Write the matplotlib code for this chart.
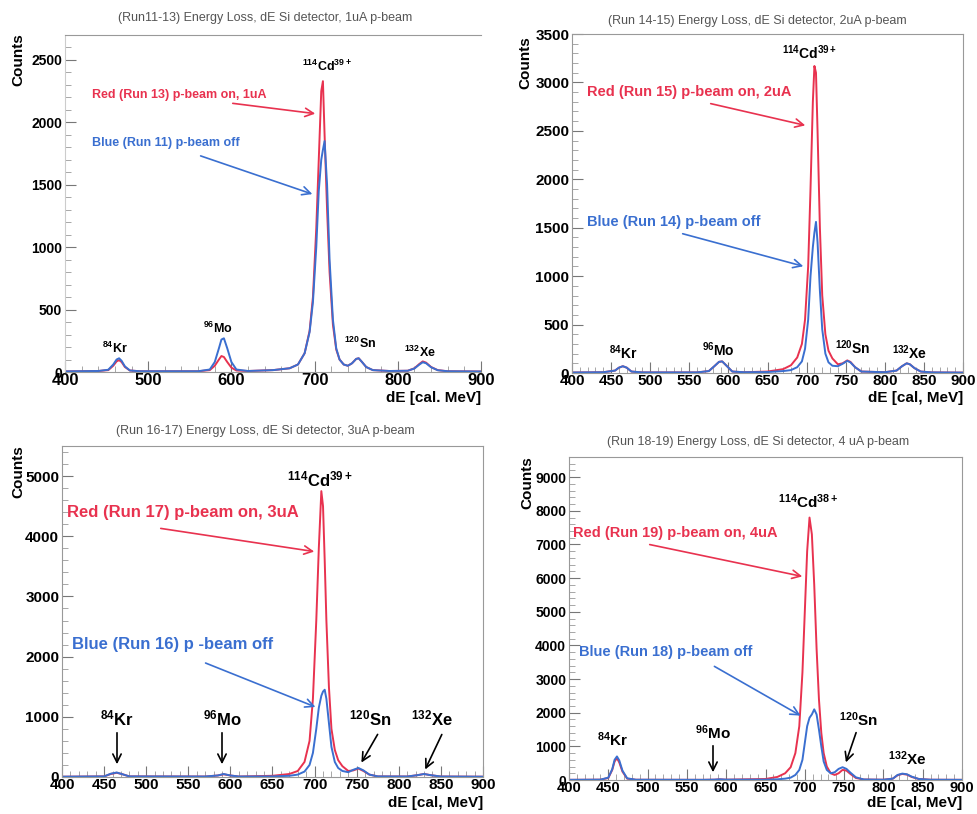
### four dE Si detector spectra, p-beam on (red) vs off (blue)
import numpy as np
import matplotlib
matplotlib.use('Agg')
import matplotlib.pyplot as plt
from matplotlib.ticker import MultipleLocator

plt.rcParams['font.family'] = ['Liberation Sans', 'DejaVu Sans']
plt.rcParams['font.weight'] = 'bold'
plt.rcParams['mathtext.fontset'] = 'custom'
plt.rcParams['mathtext.rm'] = 'Liberation Sans:bold'
plt.rcParams['mathtext.it'] = 'Liberation Sans:bold'
plt.rcParams['mathtext.bf'] = 'Liberation Sans:bold'

# ---- data ----
# panel 1: runs 11 (off) / 13 (on, 1uA)
e1 = [400, 440, 452, 458, 462, 465, 468, 472, 478, 490, 560, 574, 580, 585, 588, 591, 595, 600,
      606, 620, 650, 670, 680, 688, 694, 698, 702, 705, 708, 710, 712, 715, 718, 722, 726, 730,
      735, 740, 745, 750, 753, 757, 762, 770, 790, 812, 820, 826, 830, 834, 840, 848, 860, 900]
run13 = [5, 8, 15, 50, 85, 95, 80, 40, 12, 6, 6, 15, 50, 100, 128, 120, 80, 35,
         12, 8, 15, 30, 60, 150, 330, 600, 1150, 1700, 2250, 2330, 1900, 1300, 800, 380, 180, 100,
         60, 50, 70, 105, 110, 80, 40, 15, 8, 10, 30, 65, 85, 75, 40, 15, 6, 4]
run11 = [5, 8, 18, 60, 100, 110, 90, 45, 12, 6, 6, 20, 80, 190, 260, 270, 190, 80,
         20, 8, 15, 30, 60, 150, 320, 560, 1000, 1450, 1700, 1780, 1850, 1500, 900, 420, 190, 100,
         60, 50, 70, 105, 110, 80, 40, 15, 8, 10, 28, 60, 78, 70, 38, 14, 6, 4]

# panel 2: runs 14 (off) / 15 (on, 2uA)
e2 = [400, 440, 455, 460, 465, 470, 476, 490, 560, 575, 582, 588, 592, 597, 605, 620, 650, 670,
      680, 688, 694, 698, 702, 705, 708, 710, 712, 714, 717, 720, 724, 728, 733, 740, 746, 752,
      756, 762, 770, 800, 815, 822, 828, 832, 838, 846, 860, 900]
run15 = [5, 8, 25, 55, 70, 55, 15, 6, 6, 20, 70, 115, 120, 80, 15, 8, 15, 40,
         80, 160, 300, 550, 1100, 1900, 2800, 3170, 3100, 2500, 1500, 800, 400, 230, 150, 90, 100, 130,
         115, 60, 15, 8, 25, 70, 100, 90, 50, 15, 6, 4]
run14 = [5, 8, 25, 55, 70, 55, 15, 6, 6, 20, 70, 115, 120, 80, 15, 8, 10, 20,
         30, 60, 120, 250, 550, 1000, 1300, 1450, 1560, 1350, 850, 450, 200, 110, 75, 70, 95, 125,
         110, 60, 15, 8, 25, 70, 100, 90, 50, 15, 6, 4]

# panel 3: runs 16 (off) / 17 (on, 3uA)
e3 = [400, 450, 458, 465, 472, 480, 570, 585, 592, 600, 610, 650, 670, 680, 688, 694, 698, 702,
      705, 708, 710, 712, 714, 717, 720, 724, 728, 733, 740, 746, 752, 758, 765, 775, 810, 822,
      830, 838, 850, 900]
run17 = [5, 10, 50, 70, 45, 10, 8, 25, 45, 25, 8, 20, 50, 100, 250, 600, 1300, 2600,
         3800, 4750, 4500, 3600, 2600, 1500, 800, 450, 280, 180, 100, 110, 140, 100, 40, 10, 8, 30,
         50, 30, 8, 5]
run16 = [5, 10, 55, 75, 45, 10, 8, 25, 50, 25, 8, 10, 20, 40, 90, 200, 400, 800,
         1150, 1350, 1420, 1450, 1300, 900, 500, 250, 150, 100, 80, 120, 150, 110, 40, 10, 8, 30,
         50, 30, 8, 5]

# panel 4: runs 18 (off) / 19 (on, 4uA)
e4 = [400, 440, 450, 455, 458, 461, 464, 468, 474, 485, 570, 585, 592, 600, 650, 665, 675, 682,
      688, 693, 697, 700, 703, 706, 709, 712, 715, 718, 721, 724, 728, 733, 738, 743, 748, 753,
      758, 765, 775, 800, 812, 818, 824, 830, 836, 845, 860, 900]
run19 = [5, 10, 60, 300, 550, 650, 520, 250, 40, 8, 5, 10, 20, 10, 30, 90, 200, 380,
         800, 1600, 3200, 5000, 6800, 7800, 7300, 5800, 3900, 2400, 1400, 800, 400, 200, 150, 200, 300, 280,
         180, 60, 15, 8, 40, 140, 180, 160, 90, 30, 8, 5]
run18 = [5, 10, 70, 320, 600, 700, 580, 280, 50, 8, 5, 10, 20, 10, 10, 20, 40, 70,
         150, 300, 600, 1100, 1600, 1850, 1950, 2100, 1950, 1500, 1000, 550, 300, 200, 230, 330, 380, 330,
         220, 80, 15, 8, 40, 150, 190, 170, 100, 30, 8, 5]

RED = '#e8324f'
BLUE = '#3a6fd0'
W, H = 977, 814

fig = plt.figure(figsize=(W / 100, H / 100), dpi=100)
fig.patch.set_facecolor('white')

def fp(x, y):
    # pixel (from top-left) -> figure fraction
    return (x / W, 1 - y / H)

def panel(box, e, on, off, ymax, xmaj, xmin_, ymaj, ymin_, fs_y, fs_x, hide_right=False):
    l, t, r, b = box
    ax = fig.add_axes([l / W, 1 - b / H, (r - l) / W, (b - t) / H])
    ax.plot(e, on, color=RED, lw=1.4)
    ax.plot(e, off, color=BLUE, lw=1.4)
    ax.set_xlim(400, 900)
    ax.set_ylim(0, ymax)
    ax.xaxis.set_major_locator(MultipleLocator(xmaj))
    ax.xaxis.set_minor_locator(MultipleLocator(xmin_))
    ax.yaxis.set_major_locator(MultipleLocator(ymaj))
    ax.yaxis.set_minor_locator(MultipleLocator(ymin_))
    ax.tick_params(which='major', direction='in', length=8, width=0.8, color='#777', pad=2)
    ax.tick_params(which='minor', direction='in', length=4, width=0.6, color='#999')
    ax.tick_params(axis='y', labelsize=fs_y)
    ax.tick_params(axis='x', labelsize=fs_x, pad=1)
    for lab in ax.get_xticklabels() + ax.get_yticklabels():
        lab.set_fontweight('bold')
    for s in ax.spines.values():
        s.set_color('#999')
        s.set_linewidth(0.8)
    if hide_right:
        ax.spines['right'].set_visible(False)
        ax.spines['left'].set_color('#ccc')
    return ax

def label(x, y, s, size, color='black', ha='center'):
    fig.text(*fp(x, y), s, fontsize=size, color=color, ha=ha, va='center', fontweight='bold')

def arrow(x0, y0, x1, y1, color, lw=1.2):
    fig.add_artist(matplotlib.patches.FancyArrowPatch(
        fp(x0, y0), fp(x1, y1), transform=fig.transFigure,
        arrowstyle='->,head_length=6,head_width=3', color=color, lw=lw))

def title(x, y, s):
    fig.text(*fp(x, y), s, fontsize=9, color='#555', ha='center', va='center', fontweight='normal')

# panel 1
ax1 = panel((65, 35, 481, 372), e1, run13, run11, 2700, 100, 20, 500, 100, 10, 12, hide_right=True)
title(265, 18, '(Run11-13) Energy Loss, dE Si detector, 1uA p-beam')
label(18, 60, 'Counts', 11)
fig.texts[-1].set_rotation(90)
label(481, 398, 'dE [cal. MeV]', 11, ha='right')
label(92, 95, 'Red (Run 13) p-beam on, 1uA', 9, RED, ha='left')
label(92, 143, 'Blue (Run 11) p-beam off', 9, BLUE, ha='left')
arrow(230, 103, 318, 114, RED)
arrow(198, 155, 315, 195, BLUE)
label(115, 348, r'$^{84}$Kr', 9)
label(218, 328, r'$^{96}$Mo', 9)
label(327, 66, r'$^{114}$Cd$^{39+}$', 9)
label(360, 343, r'$^{120}$Sn', 9)
label(420, 352, r'$^{132}$Xe', 9)

# panel 2
ax2 = panel((572, 34, 963, 373), e2, run15, run14, 3500, 50, 10, 500, 100, 11, 11)
title(757, 21, '(Run 14-15) Energy Loss, dE Si detector, 2uA p-beam')
label(525, 63, 'Counts', 11)
fig.texts[-1].set_rotation(90)
label(963, 398, 'dE [cal, MeV]', 11, ha='right')
label(587, 92, 'Red (Run 15) p-beam on, 2uA', 10.5, RED, ha='left')
label(587, 222, 'Blue (Run 14) p-beam off', 10.5, BLUE, ha='left')
arrow(708, 103, 808, 126, RED)
arrow(680, 233, 806, 267, BLUE)
label(623, 353, r'$^{84}$Kr', 10)
label(718, 350, r'$^{96}$Mo', 10)
label(810, 53, r'$^{114}$Cd$^{39+}$', 10)
label(853, 348, r'$^{120}$Sn', 10)
label(910, 353, r'$^{132}$Xe', 10)

# panel 3
ax3 = panel((62, 446, 483, 777), e3, run17, run16, 5500, 50, 10, 1000, 200, 11, 11)
title(265, 431, '(Run 16-17) Energy Loss, dE Si detector, 3uA p-beam')
label(18, 472, 'Counts', 11)
fig.texts[-1].set_rotation(90)
label(483, 803, 'dE [cal, MeV]', 11, ha='right')
label(67, 513, 'Red (Run 17) p-beam on, 3uA', 12, RED, ha='left')
label(72, 645, 'Blue (Run 16) p -beam off', 12, BLUE, ha='left')
arrow(158, 528, 317, 552, RED)
arrow(203, 662, 318, 708, BLUE)
label(117, 718, r'$^{84}$Kr', 12)
label(222, 718, r'$^{96}$Mo', 12)
label(320, 479, r'$^{114}$Cd$^{39+}$', 12)
label(370, 718, r'$^{120}$Sn', 12)
label(432, 718, r'$^{132}$Xe', 12)
arrow(117, 730, 117, 767, 'black')
arrow(222, 730, 222, 767, 'black')
arrow(379, 732, 360, 765, 'black')
arrow(443, 732, 424, 772, 'black')

# panel 4
ax4 = panel((569, 457, 962, 780), e4, run19, run18, 9600, 50, 10, 1000, 200, 10, 10.5)
title(758, 442, '(Run 18-19) Energy Loss, dE Si detector, 4 uA p-beam')
label(527, 483, 'Counts', 11)
fig.texts[-1].set_rotation(90)
label(962, 803, 'dE [cal, MeV]', 11, ha='right')
label(573, 533, 'Red (Run 19) p-beam on, 4uA', 10.5, RED, ha='left')
label(579, 652, 'Blue (Run 18) p-beam off', 10.5, BLUE, ha='left')
arrow(647, 544, 805, 577, RED)
arrow(712, 665, 803, 717, BLUE)
label(613, 740, r'$^{84}$Kr', 11)
label(713, 733, r'$^{96}$Mo', 11)
label(808, 502, r'$^{114}$Cd$^{38+}$', 11)
label(858, 720, r'$^{120}$Sn', 11)
label(907, 759, r'$^{132}$Xe', 11)
arrow(713, 743, 713, 775, 'black')
arrow(857, 730, 845, 765, 'black')

plt.savefig('out.png', dpi=100, facecolor='white')
